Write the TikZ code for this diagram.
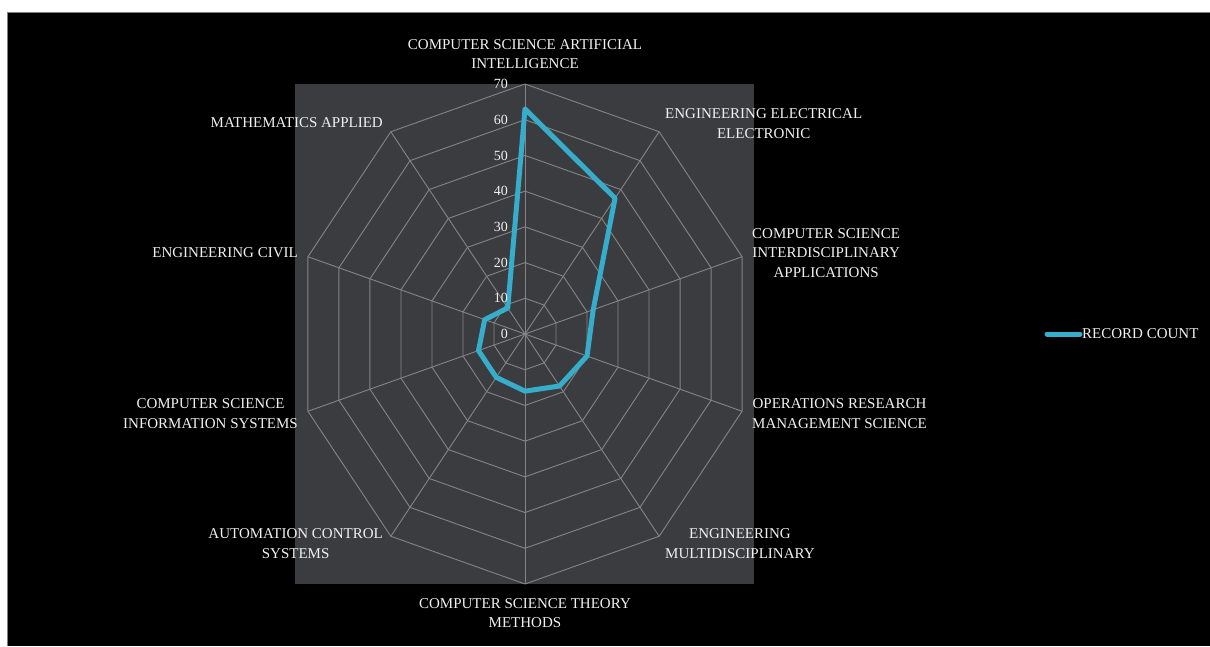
\documentclass[tikz,border=0pt]{standalone}
\usepackage{fontspec}
\setmainfont{Liberation Serif}
\usepackage{tikz}
\usetikzlibrary{positioning}
\definecolor{plotgray}{HTML}{3B3C3F}
\definecolor{gridgray}{HTML}{858585}
\definecolor{seriesblue}{HTML}{35ADCB}
\definecolor{labelwhite}{HTML}{F0F0F0}

\begin{document}
\begin{tikzpicture}
			[x=1pt,y=1pt,font=\fontsize{15}{19.5}\selectfont,
			grid/.style={draw=gridgray,line width=0.9pt},
			lbl/.style={text=labelwhite,align=center,inner sep=0pt},
			tick/.style={text=labelwhite,anchor=east,inner sep=0pt,font=\fontsize{14}{16}\selectfont},
			series/.style={draw=seriesblue,line width=5pt,line join=round}]
			\useasboundingbox (-525,-312) rectangle (685,334);
			\fill[white] (-525,-312) rectangle (685,334);
			\fill[black] (-518,-312) rectangle (685,322);
			\draw[gray,line width=0.8pt] (-518,-312) -- (-518,322) -- (685,322);
			\fill[plotgray] (-230,-250) rectangle (229,250);
			
			\begin{scope}[xscale=0.913]
			\coordinate (o) at (0,0);
			\foreach \r in {1,...,7}
			\draw [grid] (90:{\r*250/7}) \foreach \k in {1,...,9}{ -- ({90-36*\k}:{\r*250/7})} -- cycle;
			\foreach \k in {0,...,9}{
				\coordinate (a\k) at ({90-36*\k}:250);
				\draw [grid] (o) -- (a\k);
			}
			\foreach \v [count=\k from 0] in {63,47,22,20,18,16,15,15,13,9}
			\coordinate (d\k) at ({90-36*\k}:{\v*250/70});
			\draw [series] (d0) \foreach \k in {1,...,9}{ -- (d\k)} -- cycle;
			\end{scope}
			
			\foreach \n [count=\k from 0] in {0,10,...,70}
			\node (t\k) [tick] at (-17,{\k*250/7}) {\n};
			
			\node (l0) [lbl] at (0,280) {COMPUTER SCIENCE ARTIFICIAL\\INTELLIGENCE};
			\node (l1) [lbl,anchor=west] at (140,210.5) {ENGINEERING ELECTRICAL\\ELECTRONIC};
			\node (l2) [lbl,anchor=west] at (227,81) {COMPUTER SCIENCE\\INTERDISCIPLINARY\\APPLICATIONS};
			\node (l3) [lbl,anchor=west] at (227,-79.5) {OPERATIONS RESEARCH\\MANAGEMENT SCIENCE};
			\node (l4) [lbl,anchor=west] at (140,-209.5) {ENGINEERING\\MULTIDISCIPLINARY};
			\node (l5) [lbl] at (0,-279) {COMPUTER SCIENCE THEORY\\METHODS};
			\node (l6) [lbl,anchor=east] at (-142,-209.5) {AUTOMATION CONTROL\\SYSTEMS};
			\node (l7) [lbl,anchor=east] at (-227,-79.5) {COMPUTER SCIENCE\\INFORMATION SYSTEMS};
			\node (l8) [lbl,anchor=east] at (-227,81) {ENGINEERING CIVIL};
			\node (l9) [lbl,anchor=east] at (-142,211) {MATHEMATICS APPLIED};
			
			\coordinate (leg1) at (522,0);
			\coordinate (leg2) at (555,0);
			\draw [series,line cap=round] (leg1) -- (leg2);
			\node (legtxt) [lbl,right=2pt of leg2] {RECORD COUNT};
			\end{tikzpicture}
\end{document}
